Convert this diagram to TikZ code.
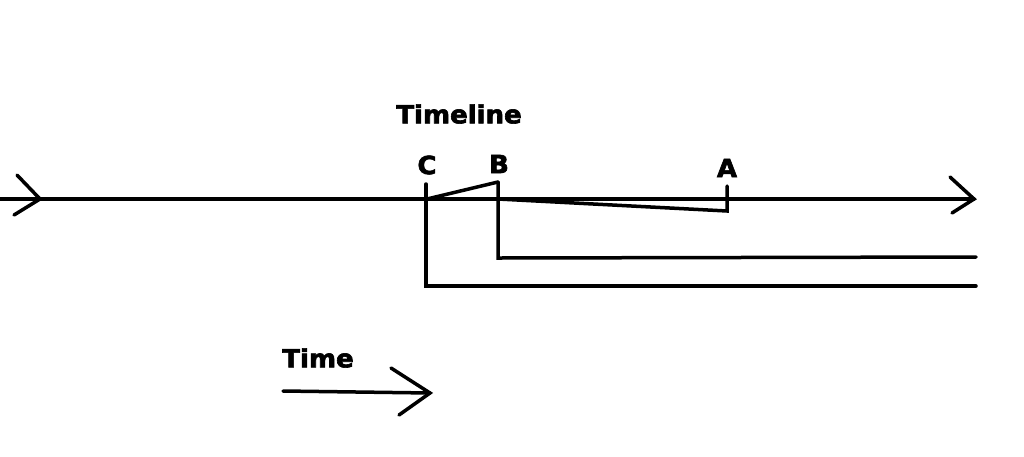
\documentclass[tikz,border=0pt]{standalone}
\usepackage{fontspec}
\setmainfont{DejaVu Sans}
\newfontfamily\heavy{DejaVu Sans Bold}[FakeBold=2.5]
\begin{document}
\begin{tikzpicture}[x=1pt,y=-1pt,
  ln/.style={line width=3.5pt,line cap=round,line join=miter},
  lbl/.style={font=\fontsize{25}{25}\selectfont\heavy,inner sep=0pt,xscale=1.04}]
\useasboundingbox (0,0) rectangle (1024,456);
% main timeline
\coordinate (L) at (0,199);
\coordinate (R) at (974,199);
\draw[ln] (L) -- (R);
\draw[ln] (17,175) -- (40,199) -- (14,215);
\draw[ln] (950,177) -- (R) -- (952,213);
% C, B, A marks
\coordinate (Ctop) at (426,184);
\coordinate (Cbot) at (426,286);
\coordinate (Btop) at (498,182);
\coordinate (Bbot) at (498,258);
\coordinate (Atop) at (727,186);
\coordinate (Abot) at (727,211);
\draw[ln] (Ctop) -- (Cbot) -- (976,286);
\draw[ln] (Btop) -- (Bbot) -- (976,257);
\draw[ln] (427,199) -- (Btop);
\draw[ln] (498,199) -- (Abot) -- (Atop);
\node[lbl] (tl) at (459,114) {Timeline};
\node[lbl] (c) at (427,165) {C};
\node[lbl] (b) at (499,164) {B};
\node[lbl] (a) at (727,168) {A};
% time arrow
\node[lbl] (time) at (318,358) {Time};
\coordinate (T0) at (283,391);
\coordinate (T1) at (430,393);
\draw[ln] (T0) -- (T1);
\draw[ln] (391,368) -- (T1) -- (399,415);
\end{tikzpicture}
\end{document}
